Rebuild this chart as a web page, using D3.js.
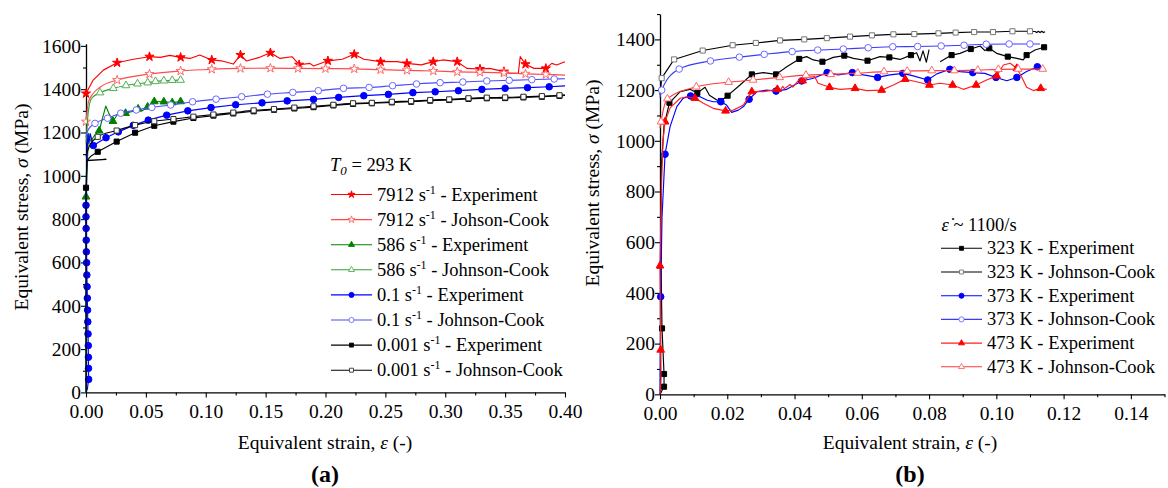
<!DOCTYPE html>
<html><head><meta charset="utf-8">
<script src="https://cdn.jsdelivr.net/npm/d3@7"></script>
<style>
body{margin:0;background:#fff;}
svg{display:block;font-family:"Liberation Serif","Times New Roman",serif;}
</style></head><body>
<svg id="c" width="1168" height="488"></svg>
<script>
// ---------- Panel (a) data: [strain, stress, marker?] ----------
const a_exp7912 = [[0,1380,1],[0.006,1442,0],[0.0145,1488,0],[0.026,1522,1],[0.0395,1538,0],[0.053,1550,1],[0.062,1547,0],[0.070,1556,0],[0.079,1547,1],[0.087,1542,0],[0.095,1558,0],[0.105,1535,1],[0.113,1531,0],[0.123,1516,0],[0.129,1558,1],[0.134,1530,0],[0.145,1547,0],[0.154,1568,1],[0.162,1542,0],[0.172,1550,0],[0.178,1513,1],[0.187,1519,0],[0.19,1507,0],[0.202,1531,1],[0.214,1538,0],[0.224,1561,1],[0.232,1538,0],[0.246,1527,1],[0.26,1527,0],[0.268,1519,1],[0.28,1512,0],[0.29,1527,1],[0.298,1535,0],[0.31,1527,1],[0.318,1496,0],[0.329,1493,1],[0.337,1496,0],[0.349,1481,1],[0.354,1473,0],[0.361,1473,0],[0.3626,1550,0],[0.367,1515,1],[0.374,1496,0],[0.384,1496,1],[0.389,1519,0],[0.393,1512,0],[0.4,1527,0]];
const a_jc7912 = [[0,1250,1],[0.002,1340,0],[0.005,1373,0],[0.012,1410,0],[0.026,1442,1],[0.053,1470,1],[0.079,1484,1],[0.105,1492,1],[0.129,1496,1],[0.154,1497,1],[0.177,1496,1],[0.2,1495,1],[0.224,1494,1],[0.246,1490,1],[0.268,1487,1],[0.29,1484,1],[0.31,1480,1],[0.329,1478,1],[0.349,1475,1],[0.367,1471,1],[0.384,1468,1],[0.4,1465,0]];
const a_exp586 = [[0,0,0],[0,903,1],[0.001,1030,0],[0.002,1196,0],[0.004,1160,0],[0.007,1185,0],[0.011,1208,1],[0.0135,1260,0],[0.0165,1322,0],[0.019,1290,0],[0.0225,1252,1],[0.027,1289,0],[0.033,1289,1],[0.038,1296,0],[0.0435,1309,1],[0.047,1300,0],[0.0515,1318,1],[0.057,1343,1],[0.065,1342,1],[0.072,1338,1],[0.079,1343,1]];
const a_jc586 = [[0,1150,0],[0.002,1300,0],[0.0047,1358,0],[0.0117,1384,1],[0.0228,1404,1],[0.0334,1417,1],[0.043,1425,1],[0.0515,1430,1],[0.058,1436,1],[0.065,1439,1],[0.072,1441,1],[0.079,1442,1]];
const a_exp01 = [[0.001,10,0],[0.0022,60,1],[0.0021,111,1],[0.002,162,1],[0.0019,216,1],[0.0017,270,1],[0.0015,326,1],[0.0013,380,1],[0.0011,435,1],[0.0009,488,1],[0.0007,542,1],[0.0005,599,1],[0.0003,649,1],[0.0002,703,1],[0.0001,757,1],[0,811,1],[0,864,1],[0.0003,950,0],[0.0008,1080,0],[0.0015,1190,0],[0.0025,1150,0],[0.0035,1195,0],[0.0061,1140,1],[0.0167,1176,1],[0.027,1203,1],[0.0395,1233,1],[0.052,1257,1],[0.0674,1280,1],[0.085,1300,1],[0.1044,1315,1],[0.125,1328,1],[0.147,1337,1],[0.168,1346,1],[0.19,1353,1],[0.211,1362,1],[0.232,1370,1],[0.2525,1376,1],[0.273,1384,1],[0.2916,1388,1],[0.311,1393,1],[0.3306,1399,1],[0.35,1404,1],[0.3687,1407,1],[0.3868,1411,1],[0.4,1415,0]];
const a_jc01 = [[0,1180,0],[0.002,1215,0],[0.0075,1242,1],[0.018,1266,1],[0.029,1289,1],[0.042,1304,1],[0.055,1316,1],[0.0707,1327,1],[0.089,1342,1],[0.1086,1354,1],[0.13,1365,1],[0.1515,1377,1],[0.1727,1385,1],[0.194,1393,1],[0.215,1404,1],[0.2364,1408,1],[0.256,1416,1],[0.276,1424,1],[0.2957,1430,1],[0.3147,1433,1],[0.3347,1438,1],[0.3534,1441,1],[0.3723,1444,1],[0.391,1447,1],[0.4,1448,0]];
const a_exp0001 = [[0,0,0],[0,500,0],[0,945,1],[0.0003,1000,0],[0.0008,1070,0],[0.0167,1076,0],[0.001,1072,0],[0.004,1090,0],[0.0098,1111,1],[0.0256,1158,1],[0.041,1199,1],[0.057,1231,1],[0.073,1250,1],[0.0897,1267,1],[0.1064,1278,1],[0.123,1288,1],[0.14,1298,1],[0.157,1305,1],[0.174,1311,1],[0.19,1317,1],[0.2066,1325,1],[0.223,1332,1],[0.2387,1335,1],[0.2554,1339,1],[0.2715,1342,1],[0.2874,1347,1],[0.3033,1350,1],[0.3194,1355,1],[0.3347,1358,1],[0.35,1359,1],[0.3653,1362,1],[0.3807,1365,1],[0.3954,1369,1],[0.4,1371,0]];
const a_jc0001 = [[0,1090,0],[0.003,1140,0],[0.0098,1180,1],[0.0256,1209,1],[0.041,1234,1],[0.057,1252,1],[0.073,1262,1],[0.0897,1273,1],[0.1064,1283,1],[0.123,1292,1],[0.14,1302,1],[0.157,1308,1],[0.174,1315,1],[0.19,1321,1],[0.2066,1328,1],[0.223,1335,1],[0.2387,1337,1],[0.2554,1342,1],[0.2715,1345,1],[0.2874,1350,1],[0.3033,1353,1],[0.3194,1358,1],[0.3347,1361,1],[0.35,1362,1],[0.3653,1365,1],[0.3807,1368,1],[0.3954,1372,1],[0.4,1374,0]];
const a_labels = ["7912 s|-1| - Experiment","7912 s|-1| - Johson-Cook","586 s|-1| - Experiment","586 s|-1| - Johnson-Cook","0.1 s|-1| - Experiment","0.1 s|-1| - Johnson-Cook","0.001 s|-1| - Experiment","0.001 s|-1| - Johnson-Cook"];

// ---------- Panel (b) data ----------
const b_exp323 = [[0,0,0],[0.0012,30,1],[0.0012,80,1],[0.0006,260,1],[0.0002,600,0],[0.0004,900,0],[0.0012,1060,0],[0.0028,1150,1],[0.006,1194,0],[0.0089,1203,0],[0.0111,1189,1],[0.0134,1211,0],[0.0147,1180,0],[0.0169,1161,0],[0.0181,1157,1],[0.0201,1178,1],[0.0238,1220,0],[0.0273,1262,1],[0.0307,1269,0],[0.0345,1262,1],[0.0377,1292,0],[0.0414,1323,1],[0.0436,1332,0],[0.0456,1319,0],[0.0483,1312,1],[0.0515,1329,0],[0.0548,1336,1],[0.0575,1325,0],[0.0617,1316,1],[0.0654,1332,0],[0.0682,1329,1],[0.0714,1321,0],[0.0746,1338,1],[0.0763,1347,0],[0.0773,1315,0],[0.0782,1355,0],[0.0792,1310,0],[0.08,1360,0],[0.081,null,0],[0.0833,1312,0],[0.0867,1338,1],[0.0892,1345,0],[0.0924,1362,1],[0.0952,1374,0],[0.0966,1356,0],[0.0979,1365,1],[0.1001,1345,0],[0.1034,1332,1],[0.1061,1325,0],[0.108,1319,0],[0.109,1338,1],[0.1115,1358,0],[0.1142,1369,1]];
const b_jc323 = [[0,1180,0],[0.0005,1247,1],[0.0042,1321,1],[0.0127,1356,1],[0.0216,1377,1],[0.0285,1386,1],[0.0357,1396,1],[0.0429,1400,1],[0.0496,1405,1],[0.0565,1411,1],[0.063,1416,1],[0.0694,1420,1],[0.0756,1421,1],[0.0828,1424,1],[0.0879,1427,1],[0.0934,1429,1],[0.099,1429,1],[0.1048,1432,1],[0.11,1432,1],[0.1115,1431,0],[0.112,1427,0],[0.1125,1432,0],[0.113,1427,0],[0.1135,1432,0],[0.114,1427,0],[0.1145,1430,0]];
const b_exp373 = [[0,0,0],[0.0002,385,1],[0.0006,700,0],[0.0015,947,1],[0.003,1056,0],[0.005,1135,0],[0.0069,1168,0],[0.0091,1177,1],[0.0119,1174,0],[0.0139,1161,0],[0.0158,1154,0],[0.0181,1154,1],[0.0198,1141,0],[0.0213,1112,0],[0.0233,1121,0],[0.0248,1135,0],[0.0265,1164,1],[0.0288,1194,0],[0.0317,1200,0],[0.0345,1196,1],[0.0377,1203,0],[0.0421,1236,1],[0.0456,1247,0],[0.0497,1269,1],[0.053,1260,0],[0.0572,1269,1],[0.0605,1260,0],[0.0647,1250,1],[0.0684,1260,0],[0.0722,1266,1],[0.0753,1256,0],[0.0796,1240,1],[0.0823,1264,0],[0.0862,1282,1],[0.0892,1273,0],[0.093,1269,1],[0.0966,1266,0],[0.0999,1250,1],[0.1031,1237,0],[0.1061,1250,1],[0.109,1273,0],[0.1122,1292,1],[0.1135,1279,0]];
const b_jc373 = [[0,1170,0],[0.0005,1200,1],[0.0057,1283,1],[0.015,1315,1],[0.0236,1330,1],[0.031,1341,1],[0.0393,1352,1],[0.0469,1358,1],[0.0545,1362,1],[0.0619,1367,1],[0.0692,1371,1],[0.0766,1372,1],[0.0836,1374,1],[0.0904,1377,1],[0.097,1381,1],[0.1038,1382,1],[0.11,1382,1],[0.113,1382,0]];
const b_exp473 = [[0,0,0],[0.0003,60,0],[0.0002,175,1],[0,507,1],[0.0004,800,0],[0.0009,1000,0],[0.0015,1075,1],[0.003,1130,0],[0.006,1168,0],[0.0079,1174,0],[0.0104,1168,1],[0.0129,1148,0],[0.0158,1128,0],[0.0195,1118,1],[0.0218,1121,0],[0.0248,1141,0],[0.0273,1194,1],[0.0307,1194,0],[0.0349,1203,1],[0.0357,1198,0],[0.0365,1215,0],[0.037,1205,0],[0.0387,1222,0],[0.0395,1212,0],[0.0416,1245,0],[0.0424,1237,1],[0.044,1250,0],[0.046,1253,0],[0.047,1227,0],[0.0504,1211,1],[0.0535,1203,0],[0.058,1207,1],[0.0615,1198,0],[0.0659,1200,1],[0.0694,1220,0],[0.0729,1243,1],[0.0763,1233,0],[0.0801,1220,1],[0.0833,1227,0],[0.087,1220,1],[0.0902,1203,0],[0.094,1220,1],[0.0971,1240,0],[0.1001,1256,1],[0.1021,1299,0],[0.1041,1306,0],[0.1061,1286,1],[0.1075,1253,0],[0.109,1211,0],[0.111,1198,0],[0.1132,1207,1],[0.115,1203,0]];
const b_jc473 = [[0,1050,0],[0.0003,1075,1],[0.0022,1166,1],[0.0108,1213,1],[0.0204,1231,1],[0.0277,1240,1],[0.0356,1250,1],[0.0434,1259,1],[0.0508,1262,1],[0.0588,1267,1],[0.0666,1273,1],[0.0735,1275,1],[0.0808,1277,1],[0.0875,1277,1],[0.0945,1279,1],[0.1006,1282,1],[0.1065,1283,1],[0.1138,1283,1]];
const b_labels = ["323 K - Experiment","323 K - Johnson-Cook","373 K - Experiment","373 K - Johnson-Cook","473 K - Experiment","473 K - Johnson-Cook"];

// ---------- styles ----------
const SYM = {star:d3.symbolStar, tri:d3.symbolTriangle, circ:d3.symbolCircle, sq:d3.symbolSquare};
const SIZE = {star:26, tri:26, circ:34, sq:26};

const aSeries = [
  {d:a_exp7912, line:"#ff0000", sym:"star", fill:"#ff0000", stroke:"#ff0000", curve:false},
  {d:a_jc7912,  line:"#ff4a4a", sym:"star", fill:"#fff", stroke:"#ff6a6a", curve:true},
  {d:a_exp586,  line:"#008000", sym:"tri", fill:"#008000", stroke:"#008000", curve:false},
  {d:a_jc586,   line:"#33a033", sym:"tri", fill:"#fff", stroke:"#55b055", curve:true},
  {d:a_exp01,   line:"#0000ff", sym:"circ", fill:"#0000ff", stroke:"#0000ff", curve:false},
  {d:a_jc01,    line:"#4a4aff", sym:"circ", fill:"#fff", stroke:"#6a6aff", curve:true},
  {d:a_exp0001, line:"#000000", sym:"sq", fill:"#000", stroke:"#000", curve:false},
  {d:a_jc0001,  line:"#000000", sym:"sq", fill:"#fff", stroke:"#333", curve:true}
];
const bSeries = [
  {d:b_exp323, line:"#000000", sym:"sq", fill:"#000", stroke:"#000", curve:false},
  {d:b_jc323,  line:"#000000", sym:"sq", fill:"#fff", stroke:"#777", curve:false},
  {d:b_exp373, line:"#0000ff", sym:"circ", fill:"#0000ff", stroke:"#0000ff", curve:false},
  {d:b_jc373,  line:"#3a3aff", sym:"circ", fill:"#fff", stroke:"#6a6aff", curve:true},
  {d:b_exp473, line:"#ff2020", sym:"tri", fill:"#ff0000", stroke:"#ff0000", curve:false},
  {d:b_jc473,  line:"#ff3a3a", sym:"tri", fill:"#fff", stroke:"#ff6a6a", curve:true}
];

const svg = d3.select("#c");
const FS = 18.5;   // legend
const TFS = 19.5;  // tick labels

function drawPanel(cfg){
  const x = d3.scaleLinear().domain(cfg.xd).range(cfg.xr);
  const y = d3.scaleLinear().domain(cfg.yd).range(cfg.yr);
  const g = svg.append("g");
  const fix = s => { s.attr("font-family",null).attr("font-size",TFS); s.select(".domain").attr("stroke-width",1.3); s.selectAll(".tick line").attr("stroke-width",1.1); };
  // minor ticks
  g.append("g").attr("transform",`translate(0,${y(0)})`)
    .call(d3.axisBottom(x).tickValues(cfg.xMinor).tickSize(3).tickFormat(""))
    .call(s=>{s.select(".domain").remove(); s.selectAll("line").attr("stroke-width",1.1);});
  g.append("g").attr("transform",`translate(${x(0)},0)`)
    .call(d3.axisLeft(y).tickValues(cfg.yMinor).tickSize(3).tickFormat(""))
    .call(s=>{s.select(".domain").remove(); s.selectAll("line").attr("stroke-width",1.1);});
  // major axes
  g.append("g").attr("transform",`translate(0,${y(0)})`)
    .call(d3.axisBottom(x).tickValues(cfg.xMajor).tickSize(5).tickSizeOuter(0).tickPadding(7).tickFormat(d3.format(".2f")))
    .call(fix);
  g.append("g").attr("transform",`translate(${x(0)},0)`)
    .call(d3.axisLeft(y).tickValues(cfg.yMajor).tickSize(5).tickSizeOuter(0).tickPadding(0).tickFormat(d3.format("d")))
    .call(fix);

  // series
  const plot = g.append("g");
  cfg.series.forEach(s=>{
    const ln = d3.line().defined(d=>d[1]!==null).x(d=>x(d[0])).y(d=>y(d[1]))
      .curve(s.curve ? d3.curveMonotoneX : d3.curveLinear);
    plot.append("path").datum(s.d).attr("d",ln).attr("fill","none")
      .attr("stroke",s.line).attr("stroke-width",1.15).attr("stroke-linejoin","round");
    plot.selectAll(null).data(s.d.filter(d=>d[2]===1 && d[1]!==null)).join("path")
      .attr("transform",d=>`translate(${x(d[0])},${y(d[1])})`)
      .attr("d",d3.symbol().type(SYM[s.sym]).size(SIZE[s.sym]))
      .attr("fill",s.fill).attr("stroke",s.stroke).attr("stroke-width",1);
  });

  // axis titles
  const yt = g.append("text").attr("transform",`translate(${cfg.ytx},${cfg.yty}) rotate(-90)`)
    .attr("text-anchor","middle").attr("font-size",19.5);
  yt.append("tspan").text("Equivalent stress, ");
  yt.append("tspan").attr("font-style","italic").text("σ");
  yt.append("tspan").text(" (MPa)");
  const xt = g.append("text").attr("x",cfg.xtx).attr("y",cfg.xty).attr("text-anchor","middle").attr("font-size",19.5);
  xt.append("tspan").text("Equivalent strain, ");
  xt.append("tspan").attr("font-style","italic").text("ε");
  xt.append("tspan").text(" (-)");
  const pl = g.append("text").attr("x",cfg.xtx).attr("y",482).attr("text-anchor","middle")
    .attr("font-size",24).attr("font-weight","bold");
  pl.append("tspan").text("(");
  pl.append("tspan").text(cfg.panel);
  pl.append("tspan").text(")");

  // legend
  const lg = g.append("g");
  cfg.labels.forEach((lab,i)=>{
    const s = cfg.series[i];
    const cy = cfg.lgY0 + i*cfg.lgDy;
    lg.append("line").attr("x1",cfg.lgX).attr("x2",cfg.lgX+41).attr("y1",cy).attr("y2",cy)
      .attr("stroke",s.line).attr("stroke-width",1.1);
    lg.append("path").attr("transform",`translate(${cfg.lgX+20.5},${cy})`)
      .attr("d",d3.symbol().type(SYM[s.sym]).size(SIZE[s.sym]*0.6))
      .attr("fill",s.fill).attr("stroke",s.stroke).attr("stroke-width",0.9);
    const t = lg.append("text").attr("x",cfg.lgX+46).attr("y",cy+6).attr("font-size",FS);
    const parts = lab.split("|");
    t.append("tspan").text(parts[0]);
    if(parts.length>1){
      t.append("tspan").attr("dy",-7).attr("font-size",FS*0.65).text(parts[1]);
      t.append("tspan").attr("dy",7).text(parts[2]);
    }
  });
  return {x,y,g};
}

const r = v => Math.round(v*1000)/1000;
drawPanel({
  xd:[0,0.4], xr:[86,565], yd:[0,1610], yr:[392.4,43.7],
  xMajor:d3.range(0,0.401,0.05).map(r), xMinor:d3.range(0.025,0.4,0.05).map(r),
  yMajor:d3.range(0,1601,200), yMinor:d3.range(100,1600,200),
  series:aSeries, labels:a_labels,
  ytx:28, yty:207, xtx:325, xty:449, panel:"a",
  lgX:331, lgY0:194.5, lgDy:25.1
});
drawPanel({
  xd:[0,0.15], xr:[660,1164.5], yd:[0,1500], yr:[394.3,14.05],
  xMajor:d3.range(0,0.141,0.02).map(r), xMinor:d3.range(0.01,0.151,0.02).map(r),
  yMajor:d3.range(0,1401,200), yMinor:d3.range(100,1501,200),
  series:bSeries, labels:b_labels,
  ytx:599, yty:183, xtx:910, xty:449, panel:"b",
  lgX:941, lgY0:248.3, lgDy:23.7
});

// legend titles
const t0 = svg.append("text").attr("x",330).attr("y",171).attr("font-size",FS);
t0.append("tspan").attr("font-style","italic").text("T");
t0.append("tspan").attr("font-style","italic").attr("font-size",FS*0.7).attr("dy",4).text("0");
t0.append("tspan").attr("dy",-4).text(" = 293 K");
const er = svg.append("text").attr("x",941.5).attr("y",230.5).attr("font-size",FS);
er.append("tspan").attr("font-style","italic").text("ε\u0307");
er.append("tspan").text(" ~ 1100/s");
</script>
</body></html>
